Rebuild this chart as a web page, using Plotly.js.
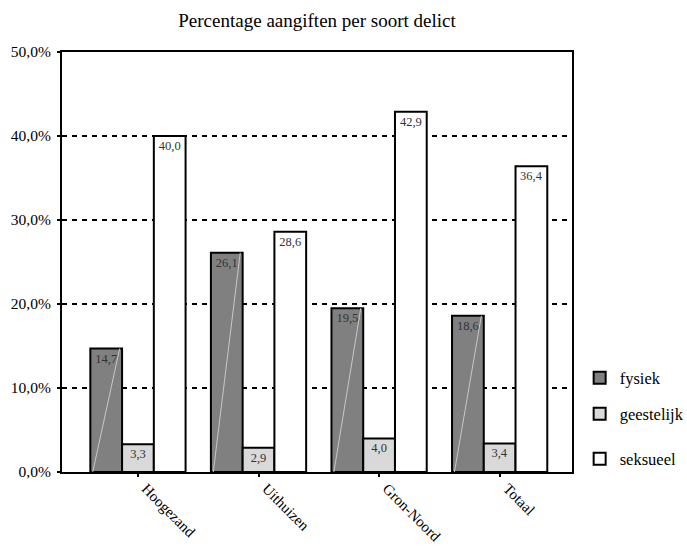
<!DOCTYPE html>
<html><head><meta charset="utf-8">
<script src="https://cdn.plot.ly/plotly-3.0.1.min.js"></script>
<style>body{margin:0;background:#fff}#c{width:687px;height:546px}</style>
</head><body><div id="c"></div>
<script>
const categories = ["Hoogezand", "Uithuizen", "Gron-Noord", "Totaal"];
const fysiek = [14.7, 26.1, 19.5, 18.6];
const geestelijk = [3.3, 2.9, 4.0, 3.4];
const seksueel = [40.0, 28.6, 42.9, 36.4];
const seriesNames = ["fysiek", "geestelijk", "seksueel"];
const yTicks = [0, 10, 20, 30, 40, 50];

const colors = ["#808080", "#d9d9d9", "#ffffff"];
const F = 'Liberation Serif, Times New Roman, serif';
const xi = categories.map((_, i) => i);
function fmt(v){ return v.toFixed(1).replace('.', ','); }
const legendIds = ['legend', 'legend2', 'legend3'];
const traces = [fysiek, geestelijk, seksueel].map((vals, k) => ({
  type: 'bar', name: seriesNames[k], x: xi, y: vals,
  legend: legendIds[k],
  marker: {color: colors[k], line: {color: '#000', width: 2}},
  text: vals.map(fmt), textposition: 'inside', insidetextanchor: 'end',
  textangle: 0, constraintext: 'none',
  insidetextfont: {family: F, size: 12.5, color: '#333'},
  hoverinfo: 'none'
}));
// faint diagonal highlight inside the fysiek bars (bottom-left to top-right)
const bw = (1 - 0.21) / 3;
const dx = [], dy = [];
xi.forEach((i, n) => {
  dx.push(i - 1.5 * bw + 0.02, i - 0.5 * bw - 0.02, null);
  dy.push(0, fysiek[n], null);
});
traces.push({type: 'scatter', mode: 'lines', x: dx, y: dy, showlegend: false,
  line: {color: '#c8c8c8', width: 1}, hoverinfo: 'none', cliponaxis: true});

const legendY = [0.224, 0.138, 0.031];
const layout = {
  width: 687, height: 546,
  margin: {l: 62, r: 115, t: 52, b: 74, autoexpand: false},
  paper_bgcolor: '#fff', plot_bgcolor: '#fff',
  barmode: 'group', bargap: 0.21, bargroupgap: 0,
  separators: ',.',
  font: {family: F, size: 13, color: '#000'},
  title: {text: 'Percentage aangiften per soort delict', font: {family: F, size: 19, color: '#000'}, x: 0.4615, xanchor: 'center', y: 0.963, yanchor: 'middle'},
  xaxis: {range: [-0.63, 3.6], tickvals: xi, ticktext: categories, tickangle: 45,
    showline: true, linecolor: '#000', linewidth: 2, mirror: true,
    ticks: 'outside', ticklen: 3, tickwidth: 2, tickcolor: '#000',
    ticklabelshift: 8, ticklabelstandoff: -3,
    showgrid: false, zeroline: false, tickfont: {family: F, size: 15}},
  yaxis: {range: [0, 50], tickvals: yTicks, ticktext: yTicks.map(v => fmt(v) + '%'),
    showline: true, linecolor: '#000', linewidth: 2, mirror: true,
    ticks: 'outside', ticklen: 3, tickwidth: 2, tickcolor: '#000', ticklabelstandoff: 3,
    showgrid: true, gridcolor: '#000', gridwidth: 2, griddash: '5px,5px',
    zeroline: false, tickfont: {family: F, size: 15.5}},
  showlegend: true
};
legendIds.forEach((id, k) => {
  layout[id] = {x: 1.015, xanchor: 'left', y: legendY[k], yanchor: 'middle',
    itemwidth: 30, font: {family: F, size: 16.5, color: '#000'}, bgcolor: 'rgba(0,0,0,0)'};
});
Plotly.newPlot('c', traces, layout, {staticPlot: true});
</script></body></html>
